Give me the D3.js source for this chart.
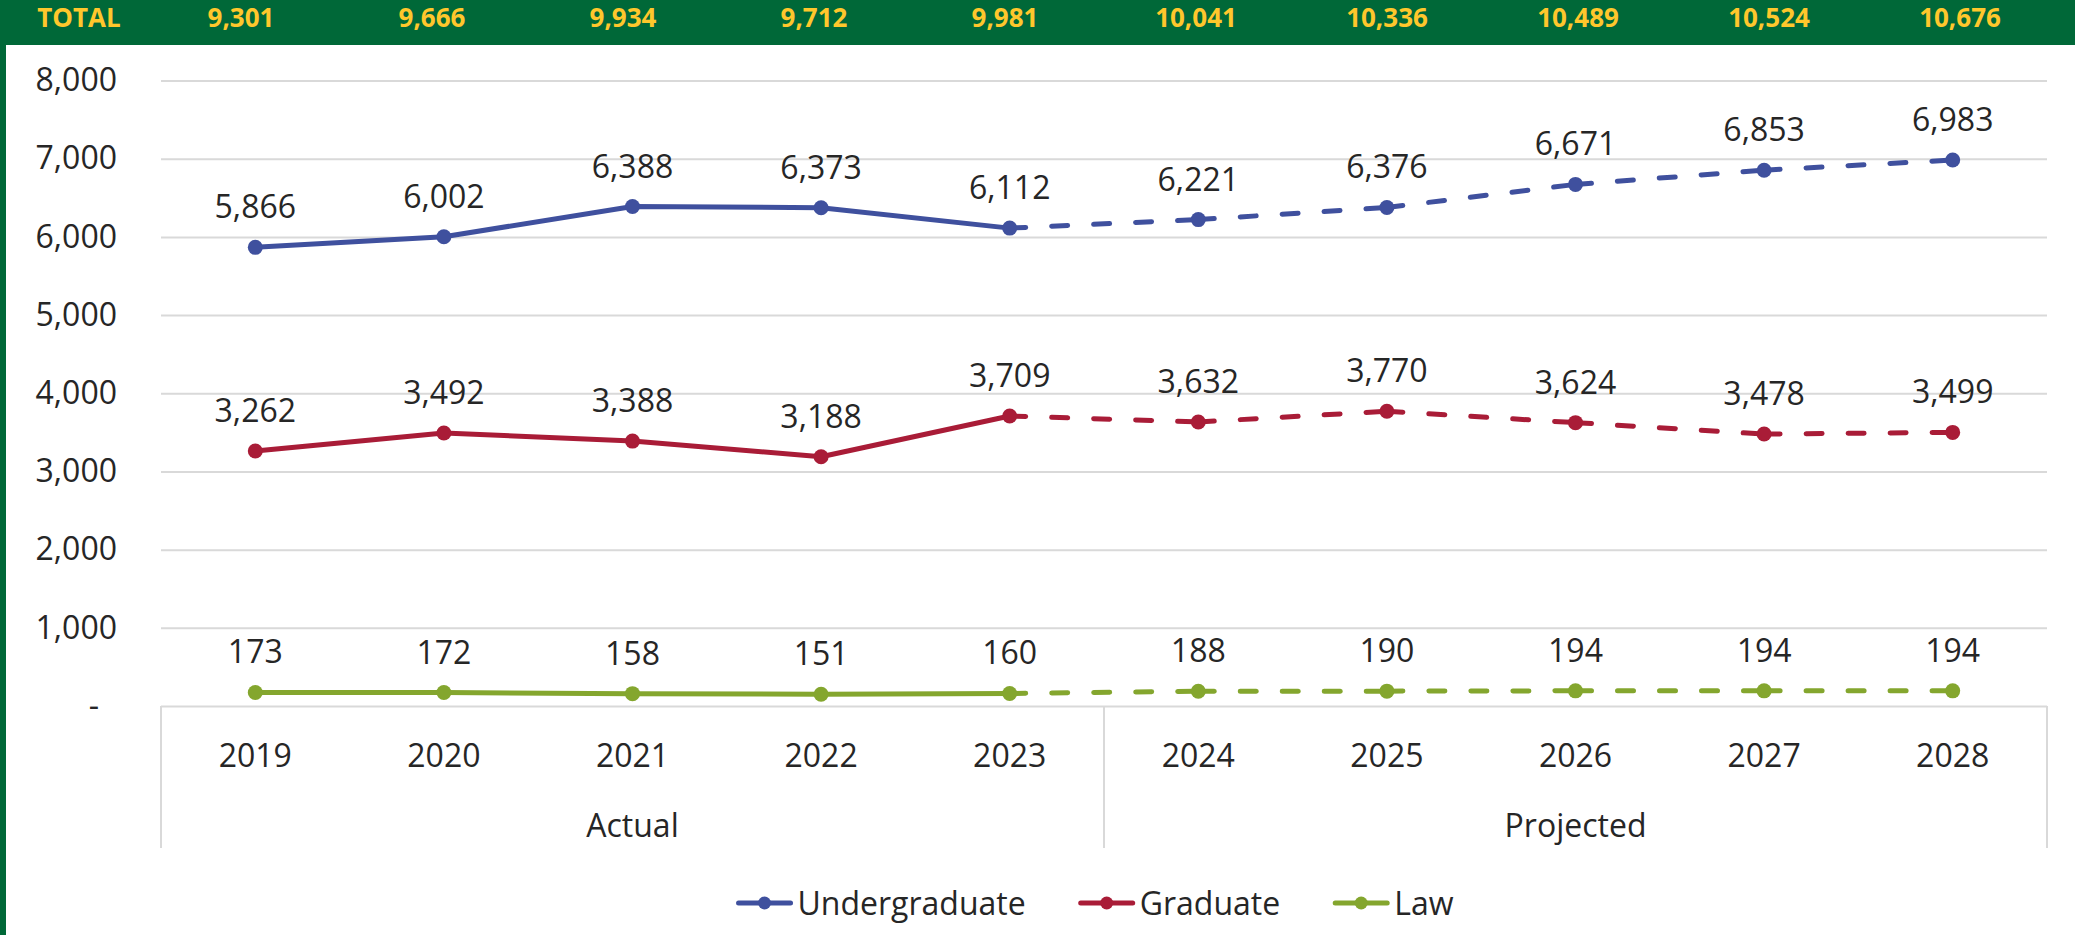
<!DOCTYPE html>
<html>
<head>
<meta charset="utf-8">
<script src="https://cdn.jsdelivr.net/npm/d3@7"></script>
<style>
    body { margin: 0; background: #fff; }
    text { font-family: "Open Sans", "Noto Sans", sans-serif; fill: #262626; }
</style>
</head>
<body>
<div id="chart"></div>
<script>
// data
const years = ["2019", "2020", "2021", "2022", "2023", "2024", "2025", "2026", "2027", "2028"];
const groups = ["Actual", "Projected"];
const actualCount = 5;
const undergrad = [5866, 6002, 6388, 6373, 6112, 6221, 6376, 6671, 6853, 6983];
const graduate = [3262, 3492, 3388, 3188, 3709, 3632, 3770, 3624, 3478, 3499];
const law = [173, 172, 158, 151, 160, 188, 190, 194, 194, 194];
const totals = [9301, 9666, 9934, 9712, 9981, 10041, 10336, 10489, 10524, 10676];
const yTicks = [0, 1000, 2000, 3000, 4000, 5000, 6000, 7000, 8000];

const series = [
    {name: "Undergraduate", values: undergrad, color: "#3F509E"},
    {name: "Graduate", values: graduate, color: "#A91C37"},
    {name: "Law", values: law, color: "#84A62E"}
];

const W = 2075, H = 935;
const green = "#006838", yellow = "#FFC72C", grid = "#D9D9D9";

const svg = d3.select("#chart").append("svg")
    .attr("width", W)
    .attr("height", H);

// frame: top band and left edge
svg.append("rect").attr("x", 0).attr("y", 0).attr("width", W).attr("height", 45).attr("fill", green);
svg.append("rect").attr("x", 0).attr("y", 0).attr("width", 6).attr("height", H).attr("fill", green);

// totals row
const xt = d3.scalePoint().domain(years).range([241, 1960]);
svg.append("text")
    .attr("x", 79).attr("y", 27)
    .attr("text-anchor", "middle")
    .style("font-size", "26px").style("font-weight", "bold").style("fill", yellow)
    .text("TOTAL");
svg.selectAll(".total")
    .data(totals)
    .enter().append("text")
    .attr("class", "total")
    .attr("x", (d, i) => xt(years[i]))
    .attr("y", 27)
    .attr("text-anchor", "middle")
    .style("font-size", "26px").style("font-weight", "bold").style("fill", yellow)
    .text(d => d3.format(",")(d));

// scales
const x = d3.scaleBand().domain(years).range([161, 2047]);
const y = d3.scaleLinear().domain([0, 8000]).range([706, 80.5]);
const cx = d => x(d) + x.bandwidth() / 2;

// y axis + gridlines
const yAxis = svg.append("g")
    .attr("transform", "translate(161,0)")
    .call(d3.axisLeft(y)
        .tickValues(yTicks)
        .tickSize(-(2047 - 161))
        .tickPadding(44)
        .tickFormat(d => d === 0 ? "-" : d3.format(",")(d)));
yAxis.select(".domain").remove();
yAxis.selectAll(".tick line").attr("stroke", grid).attr("stroke-width", 2);
yAxis.selectAll(".tick text")
    .style("font-size", "32px")
    .attr("fill", "#262626")
    .style("font-family", "'Open Sans', sans-serif")
    .attr("dx", d => d === 0 ? -18 : 0);

// category axis
const xAxis = svg.append("g")
    .attr("transform", "translate(0,706)")
    .call(d3.axisBottom(x).tickSize(0).tickPadding(38));
xAxis.select(".domain").remove();
xAxis.selectAll(".tick text")
    .style("font-size", "32px")
    .attr("fill", "#262626")
    .style("font-family", "'Open Sans', sans-serif");

const seps = [x(years[0]), x(years[actualCount]), x(years[years.length - 1]) + x.bandwidth()];
svg.selectAll(".sep")
    .data(seps)
    .enter().append("line")
    .attr("class", "sep")
    .attr("x1", d => d).attr("x2", d => d)
    .attr("y1", 706).attr("y2", 848)
    .attr("stroke", grid).attr("stroke-width", 2);

svg.selectAll(".group")
    .data(groups)
    .enter().append("text")
    .attr("class", "group")
    .attr("x", (d, i) => (seps[i] + seps[i + 1]) / 2)
    .attr("y", 837)
    .attr("text-anchor", "middle")
    .style("font-size", "32px")
    .text(d => d);

// lines
const line = d3.line().x(d => cx(d.year)).y(d => y(d.v));

series.forEach(s => {
    const pts = s.values.map((v, i) => ({year: years[i], v: v}));
    const g = svg.append("g");

    g.append("path")
        .datum(pts.slice(0, actualCount))
        .attr("d", line)
        .attr("fill", "none")
        .attr("stroke", s.color)
        .attr("stroke-width", 5)
        .attr("stroke-linecap", "round")
        .attr("stroke-linejoin", "round");

    // projected part, each segment dashed on its own
    for (let i = actualCount - 1; i < pts.length - 1; i++) {
        g.append("path")
            .datum([pts[i], pts[i + 1]])
            .attr("d", line)
            .attr("fill", "none")
            .attr("stroke", s.color)
            .attr("stroke-width", 5)
            .attr("stroke-linecap", "round")
            .attr("stroke-dasharray", "16 26");
    }

    g.selectAll("circle")
        .data(pts)
        .enter().append("circle")
        .attr("cx", d => cx(d.year))
        .attr("cy", d => y(d.v))
        .attr("r", 7.5)
        .attr("fill", s.color);

    g.selectAll(".label")
        .data(pts)
        .enter().append("text")
        .attr("class", "label")
        .attr("x", d => cx(d.year))
        .attr("y", d => y(d.v) - 29)
        .attr("text-anchor", "middle")
        .style("font-size", "32px")
        .text(d => d3.format(",")(d.v));
});

// legend
const legend = svg.append("g");
let lx = 0;
series.forEach((s, i) => {
    const item = legend.append("g").attr("transform", "translate(" + lx + ",0)");
    item.append("line")
        .attr("x1", 2).attr("x2", 54)
        .attr("y1", 0).attr("y2", 0)
        .attr("stroke", s.color).attr("stroke-width", 5)
        .attr("stroke-linecap", "round");
    item.append("circle").attr("cx", 28).attr("cy", 0).attr("r", 6.5).attr("fill", s.color);
    const t = item.append("text")
        .attr("x", 61).attr("y", 11.5)
        .style("font-size", "32px")
        .text(s.name);
    lx += 61 + t.node().getComputedTextLength() + 53;
});
const legendW = lx - 53;
legend.attr("transform", "translate(" + (1095 - legendW / 2) + ",903)");
</script>
</body>
</html>
